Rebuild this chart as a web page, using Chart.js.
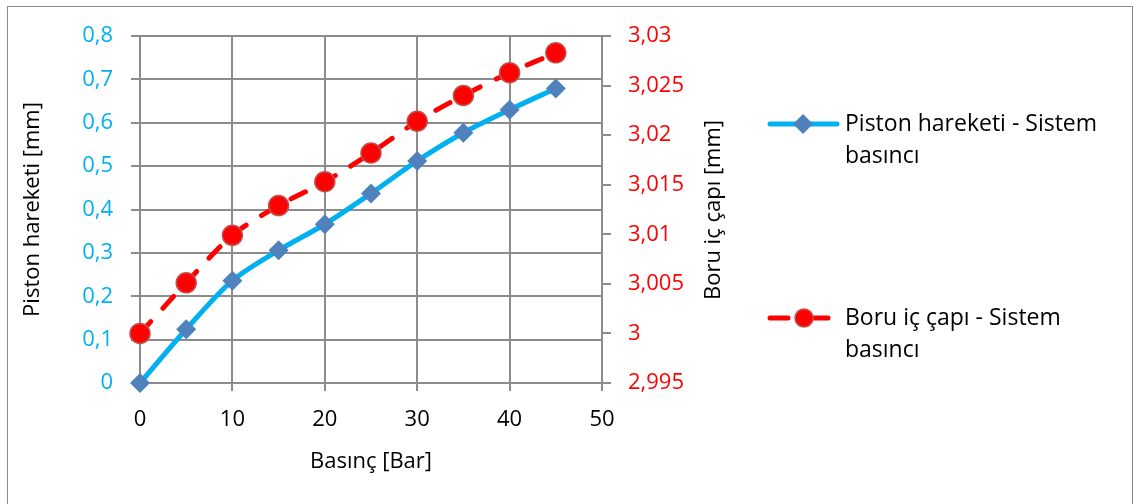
<!DOCTYPE html>
<html>
<head>
<meta charset="utf-8">
<script src="https://cdn.jsdelivr.net/npm/chart.js@4.4.1/dist/chart.umd.min.js"></script>
<style>
  html, body { margin: 0; padding: 0; background: #fff; }
  body { width: 1133px; height: 504px; position: relative; overflow: hidden; }
  #frame { position: absolute; left: 7px; top: 6px; width: 1126px; height: 520px; border: 1px solid #8a8a8a; box-sizing: border-box; }
  #wrap { position: absolute; left: 0; top: 0; width: 1133px; height: 504px; }
</style>
</head>
<body>
<div id="frame"></div>
<div id="wrap"><canvas id="chart" width="1133" height="504"></canvas></div>
<script>
// === Data ===
const pressure = [0, 5, 10, 15, 20, 25, 30, 35, 40, 45];
const pistonMove = [0, 0.124, 0.236, 0.306, 0.366, 0.437, 0.512, 0.577, 0.630, 0.679];
const boreDiameter = [3.0000, 3.0051, 3.0099, 3.0129, 3.0153, 3.0182, 3.0214, 3.0240, 3.0263, 3.0283];
const seriesLabels = ['Piston hareketi - Sistem basıncı', 'Boru iç çapı - Sistem basıncı'];
const legendLines = [['Piston hareketi - Sistem', 'basıncı'], ['Boru iç çapı - Sistem', 'basıncı']];

const BLUE = '#00B0F0';
const DIAMOND = '#4F81BD';
const RED = '#FF0000';
const GRID = '#8c8c8c';
const FONT = '"Open Sans"';

Chart.defaults.font.family = FONT;
Chart.defaults.font.size = 22;
Chart.defaults.color = '#000';

const comma = v => parseFloat(Number(v).toFixed(3)).toString().replace('.', ',');

// draws the right axis title (bottom-to-top) and the wrapped legend
const extras = {
    id: 'extras',
    afterDraw(chart) {
        const c = chart.ctx;
        c.save();
        c.font = '22px ' + FONT;
        c.fillStyle = '#000';
        c.textAlign = 'center';
        c.textBaseline = 'middle';
        c.translate(714, 210);
        c.rotate(-Math.PI / 2);
        c.fillText('Boru iç çapı [mm]', 0, 0);
        c.restore();

        c.save();
        // blue entry
        c.lineCap = 'round';
        c.strokeStyle = BLUE;
        c.lineWidth = 5;
        c.beginPath(); c.moveTo(770, 124); c.lineTo(837, 124); c.stroke();
        c.fillStyle = DIAMOND;
        c.beginPath();
        c.moveTo(803, 114); c.lineTo(813, 124); c.lineTo(803, 134); c.lineTo(793, 124);
        c.closePath(); c.fill();
        // red entry
        c.strokeStyle = RED;
        c.beginPath(); c.moveTo(770, 318); c.lineTo(788, 318); c.stroke();
        c.beginPath(); c.moveTo(812, 318); c.lineTo(828, 318); c.stroke();
        c.fillStyle = RED;
        c.strokeStyle = '#c0504d';
        c.lineWidth = 1.5;
        c.beginPath(); c.arc(804, 318, 9, 0, Math.PI * 2); c.fill(); c.stroke();

        c.fillStyle = '#000';
        c.font = '23px ' + FONT;
        c.textAlign = 'left';
        c.textBaseline = 'middle';
        c.fillText(legendLines[0][0], 845, 124);
        c.fillText(legendLines[0][1], 845, 156);
        c.fillText(legendLines[1][0], 845, 318);
        c.fillText(legendLines[1][1], 845, 350);
        c.restore();
    }
};

const ctx = document.getElementById('chart').getContext('2d');
new Chart(ctx, {
    type: 'line',
    data: {
        datasets: [{
            label: seriesLabels[0],
            data: pressure.map((p, i) => ({ x: p, y: pistonMove[i] })),
            yAxisID: 'y',
            borderColor: BLUE,
            borderWidth: 5,
            tension: 0.3,
            pointStyle: 'rectRot',
            pointRadius: 10,
            pointBackgroundColor: DIAMOND,
            pointBorderColor: DIAMOND,
            pointBorderWidth: 0,
            clip: false,
            order: 2
        }, {
            label: seriesLabels[1],
            data: pressure.map((p, i) => ({ x: p, y: boreDiameter[i] })),
            yAxisID: 'y1',
            borderColor: RED,
            borderWidth: 5,
            borderDash: [16, 18],
            borderCapStyle: 'round',
            tension: 0.3,
            pointStyle: 'circle',
            pointRadius: 10,
            pointBackgroundColor: RED,
            pointBorderColor: '#c0504d',
            pointBorderWidth: 1.5,
            clip: false,
            order: 1
        }]
    },
    options: {
        responsive: false,
        animation: false,
        devicePixelRatio: 1,
        layout: { padding: { left: 14, right: 431, top: 36, bottom: 20 } },
        plugins: {
            legend: { display: false },
            tooltip: { enabled: false }
        },
        scales: {
            x: {
                type: 'linear',
                min: 0, max: 50,
                ticks: { stepSize: 10, padding: 16, color: '#000' },
                grid: { color: GRID, lineWidth: 2, tickLength: 8 },
                border: { color: GRID, width: 2 },
                title: { display: true, text: 'Basınç [Bar]', padding: { top: 0, bottom: 9 } },
                afterFit: s => { s.height = 101; }
            },
            y: {
                position: 'left',
                min: 0, max: 0.8,
                ticks: { stepSize: 0.1, padding: 18, color: BLUE, callback: comma },
                grid: { color: GRID, lineWidth: 2, tickLength: 9 },
                border: { color: GRID, width: 2 },
                title: { display: true, text: 'Piston hareketi [mm]', padding: { top: 6, bottom: 0 } },
                afterFit: s => { s.width = 126; }
            },
            y1: {
                position: 'right',
                min: 2.995, max: 3.03,
                ticks: { stepSize: 0.005, padding: 17, color: RED, callback: comma },
                grid: { drawOnChartArea: false, color: GRID, lineWidth: 2, tickLength: 9 },
                border: { color: GRID, width: 2 },
                afterFit: s => { s.width = 100; }
            }
        }
    },
    plugins: [extras]
});
</script>
</body>
</html>
